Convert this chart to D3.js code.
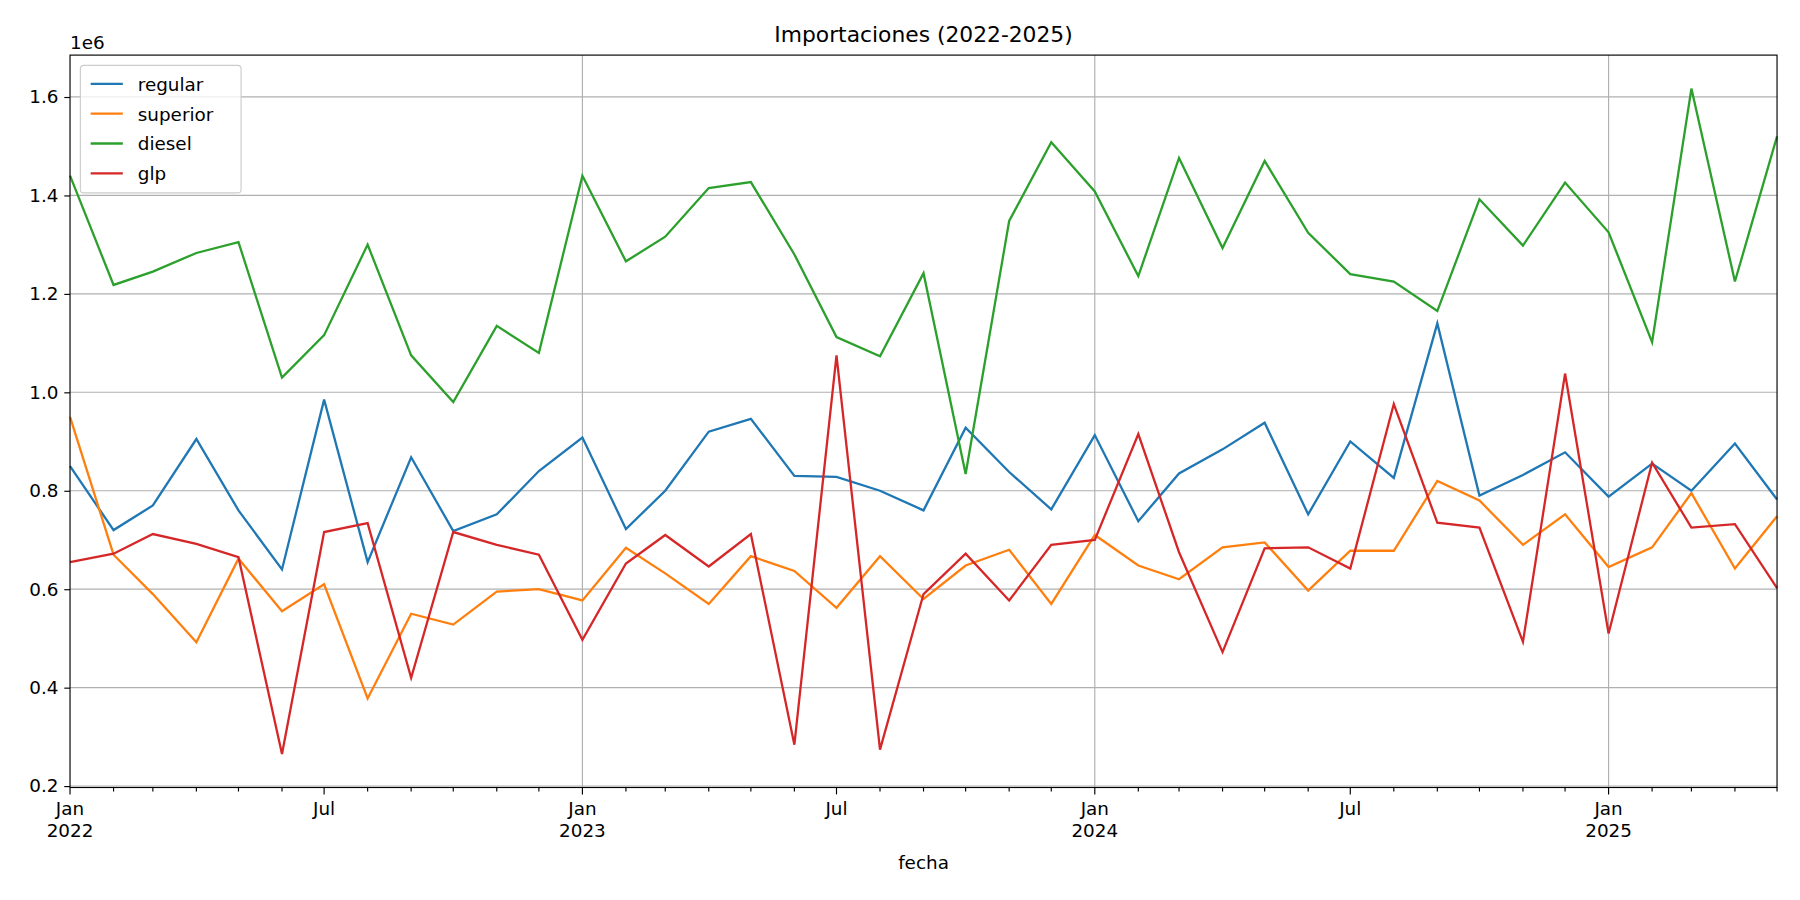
<!DOCTYPE html>
<html><head><meta charset="utf-8">
<script src="https://cdn.jsdelivr.net/npm/d3@7"></script>
<style>body{margin:0;background:#fff;font-family:"DejaVu Sans",sans-serif}svg{display:block}</style>
</head><body>
<svg id="chart" width="1800" height="900" viewBox="0 0 1568 784"></svg>
<script>
// monthly values, millions, Jan 2022 .. May 2025
var regular = [0.85,0.72,0.77,0.905,0.76,0.64,0.985,0.655,0.868,0.718,0.752,0.84,
  0.908,0.722,0.80,0.92,0.946,0.83,0.828,0.80,0.76,0.928,0.838,0.762,
  0.913,0.738,0.835,0.884,0.938,0.752,0.90,0.826,1.14,0.79,0.832,0.878,
  0.788,0.855,0.80,0.896,0.782];
var superior = [0.95,0.67,0.59,0.492,0.662,0.555,0.61,0.378,0.55,0.528,0.595,0.60,
  0.577,0.684,0.632,0.57,0.667,0.637,0.562,0.667,0.58,0.648,0.68,0.57,
  0.71,0.648,0.62,0.685,0.695,0.597,0.678,0.678,0.82,0.78,0.69,0.752,
  0.645,0.685,0.795,0.642,0.748];
var diesel = [1.44,1.218,1.245,1.283,1.305,1.03,1.116,1.30,1.075,0.98,1.135,1.08,
  1.44,1.266,1.316,1.415,1.427,1.28,1.112,1.073,1.242,0.834,1.348,1.508,
  1.408,1.236,1.476,1.293,1.47,1.324,1.24,1.225,1.165,1.392,1.298,1.426,
  1.325,1.102,1.617,1.225,1.52];
var glp = [0.655,0.672,0.712,0.692,0.665,0.265,0.716,0.734,0.42,0.716,0.69,0.67,
  0.497,0.652,0.71,0.646,0.712,0.284,1.075,0.274,0.59,0.672,0.577,0.69,
  0.70,0.915,0.675,0.472,0.683,0.685,0.642,0.976,0.735,0.725,0.493,1.038,
  0.51,0.857,0.725,0.732,0.602];
var seriesNames = ["regular","superior","diesel","glp"];
var yTicks = [0.2,0.4,0.6,0.8,1.0,1.2,1.4,1.6];

var colors = ["#1f77b4","#ff7f0e","#2ca02c","#d62728"];
var allSeries = [regular, superior, diesel, glp];
var dates = regular.map(function(d,i){ return new Date(2022, i, 1); });

var L = 61, R = 1548, T = 48, B = 686;
var svg = d3.select("#chart");
var x = d3.scaleTime().domain([dates[0], dates[dates.length-1]]).range([L, R]);
var y = d3.scaleLinear().domain([0.197, 1.685]).range([B, T]);

// grid
svg.append("g").selectAll("line").data(yTicks).enter().append("line")
  .attr("x1", L).attr("x2", R).attr("y1", y).attr("y2", y)
  .attr("stroke", "#b0b0b0").attr("stroke-width", 1);
var years = [new Date(2023,0,1), new Date(2024,0,1), new Date(2025,0,1)];
svg.append("g").selectAll("line").data(years).enter().append("line")
  .attr("x1", x).attr("x2", x).attr("y1", T).attr("y2", B)
  .attr("stroke", "#b0b0b0").attr("stroke-width", 1);

// lines
var line = d3.line().x(function(d,i){ return x(dates[i]); }).y(function(d){ return y(d); });
allSeries.forEach(function(s, k){
  svg.append("path").datum(s).attr("d", line).attr("fill", "none")
    .attr("stroke", colors[k]).attr("stroke-width", 2);
});

// frame
svg.append("rect").attr("x", L).attr("y", T).attr("width", R-L).attr("height", B-T)
  .attr("fill", "none").attr("stroke", "#000").attr("stroke-width", 1);

// y axis
var yAx = svg.append("g").attr("transform", "translate(" + L + ",0)")
  .call(d3.axisLeft(y).tickValues(yTicks).tickFormat(d3.format(".1f")).tickSizeOuter(0).tickSize(5));
yAx.select(".domain").remove();
yAx.selectAll("text").attr("font-size", 16).attr("font-family", "DejaVu Sans").attr("dx", -2);
svg.append("text").attr("x", L).attr("y", T-5).attr("font-size", 16).text("1e6");

// x axis: minor monthly ticks, major Jan/Jul
var xAx = svg.append("g").attr("transform", "translate(0," + B + ")");
xAx.selectAll("line").data(dates).enter().append("line")
  .attr("x1", x).attr("x2", x).attr("y1", 0)
  .attr("y2", function(d){ return (d.getMonth() % 6 === 0) ? 6 : 3.5; })
  .attr("stroke", "#000");
var majors = dates.filter(function(d){ return d.getMonth() % 6 === 0; });
var lab = xAx.selectAll("text").data(majors).enter().append("text")
  .attr("x", x).attr("y", 24).attr("text-anchor", "middle").attr("font-size", 16);
lab.append("tspan").attr("x", x).text(function(d){ return d.getMonth() === 0 ? "Jan" : "Jul"; });
lab.filter(function(d){ return d.getMonth() === 0; }).append("tspan").attr("x", x).attr("dy", 19)
  .text(function(d){ return d.getFullYear(); });

svg.append("text").attr("x", (L+R)/2).attr("y", 757).attr("text-anchor", "middle")
  .attr("font-size", 16).text("fecha");
svg.append("text").attr("x", (L+R)/2).attr("y", 37).attr("text-anchor", "middle")
  .attr("font-size", 19).text("Importaciones (2022-2025)");

// legend
var lg = svg.append("g").attr("transform", "translate(70,57)");
lg.append("rect").attr("width", 140).attr("height", 111).attr("rx", 3)
  .attr("fill", "#fff").attr("fill-opacity", 0.8).attr("stroke", "#ccc");
seriesNames.forEach(function(n, k){
  var yy = 16 + k * 26;
  lg.append("line").attr("x1", 9).attr("x2", 37).attr("y1", yy).attr("y2", yy)
    .attr("stroke", colors[k]).attr("stroke-width", 2);
  lg.append("text").attr("x", 50).attr("y", yy + 6).attr("font-size", 16).text(n);
});
</script>
</body></html>
